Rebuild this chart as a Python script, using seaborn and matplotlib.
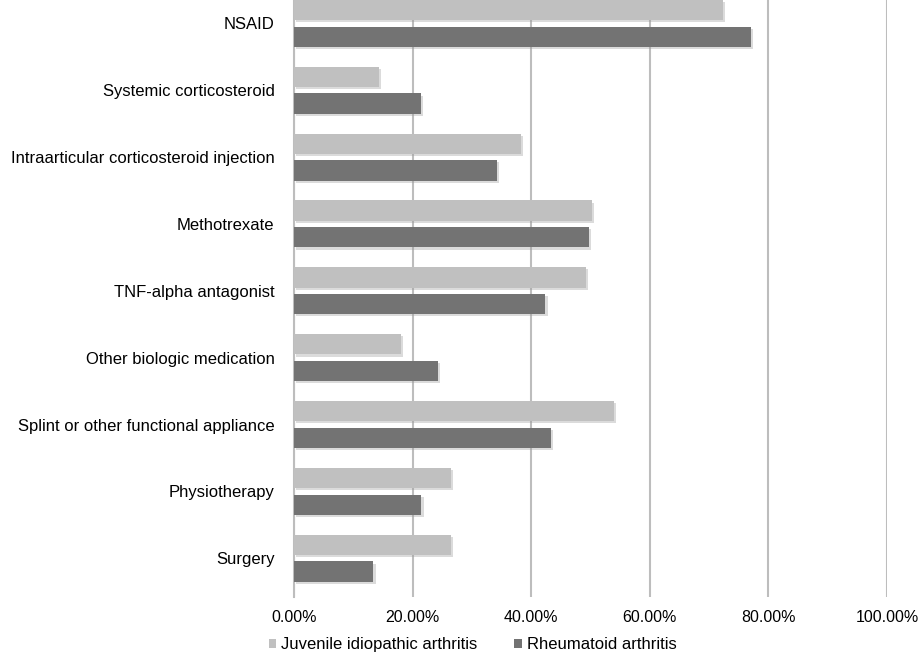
import matplotlib
matplotlib.use("Agg")
import pandas as pd
import matplotlib.pyplot as plt
import matplotlib.patheffects as pe
from matplotlib.ticker import PercentFormatter, MultipleLocator
from matplotlib.patches import Patch
import seaborn as sns

# Values (percent of patients)
treatments = [
    "NSAID",
    "Systemic corticosteroid",
    "Intraarticular corticosteroid injection",
    "Methotrexate",
    "TNF-alpha antagonist",
    "Other biologic medication",
    "Splint or other functional appliance",
    "Physiotherapy",
    "Surgery",
]
jia = [72.3, 14.4, 38.3, 50.3, 49.3, 18.0, 54.0, 26.4, 26.4]
ra = [77.1, 21.4, 34.2, 49.8, 42.4, 24.2, 43.4, 21.5, 13.4]
groups = ["Juvenile idiopathic arthritis", "Rheumatoid arthritis"]

df = pd.DataFrame({
    "treatment": treatments * 2,
    "pct": jia + ra,
    "group": [groups[0]] * len(treatments) + [groups[1]] * len(treatments),
})

sns.set_style("white")
plt.rcParams['font.family'] = ['Liberation Sans', 'DejaVu Sans']
plt.rcParams['text.color'] = 'black'
plt.rcParams['xtick.color'] = 'black'
plt.rcParams['ytick.color'] = 'black'

fig = plt.figure(figsize=(9.21, 6.56), dpi=100)
ax = fig.add_axes([294 / 921, 1 - 597 / 656, (887 - 294) / 921, 597 / 656])

colors = ["#c0c0c0", "#737373"]
sns.barplot(data=df, y="treatment", x="pct", hue="group", order=treatments,
            hue_order=groups, palette=colors, width=0.8, gap=0.24,
            saturation=1, linewidth=0, legend=False, ax=ax, zorder=3)

# little drop shadow like the original office chart
for p in ax.patches:
    p.set_path_effects([pe.SimplePatchShadow(offset=(1.5, -1.5), shadow_rgbFace="#9a9a9a", alpha=0.35),
                        pe.Normal()])

ax.set_xlim(0, 100)
ax.set_ylim(8.58, -0.35)
ax.xaxis.set_major_locator(MultipleLocator(20))
ax.xaxis.set_major_formatter(PercentFormatter(xmax=100, decimals=2))
ax.grid(axis="x", color="#bdbdbd", linewidth=1.5, zorder=0)
ax.set_axisbelow(True)
for s in ["top", "right", "bottom"]:
    ax.spines[s].set_visible(False)
ax.spines["left"].set_color("#bdbdbd")
ax.spines["left"].set_linewidth(1.5)
ax.tick_params(axis="y", length=0, pad=14, labelsize=12)
ax.tick_params(axis="x", length=0, pad=9, labelsize=11.5)
ax.set_xlabel("")
ax.set_ylabel("")

handles = [Patch(facecolor=c, edgecolor="none") for c in colors]
fig.legend(handles, groups, loc="center", bbox_to_anchor=(0.513, 0.017), ncol=2,
           frameon=False, fontsize=12, handlelength=0.45, handleheight=0.45,
           handletextpad=0.3, columnspacing=2.2)

plt.savefig("out.png", dpi=100)
